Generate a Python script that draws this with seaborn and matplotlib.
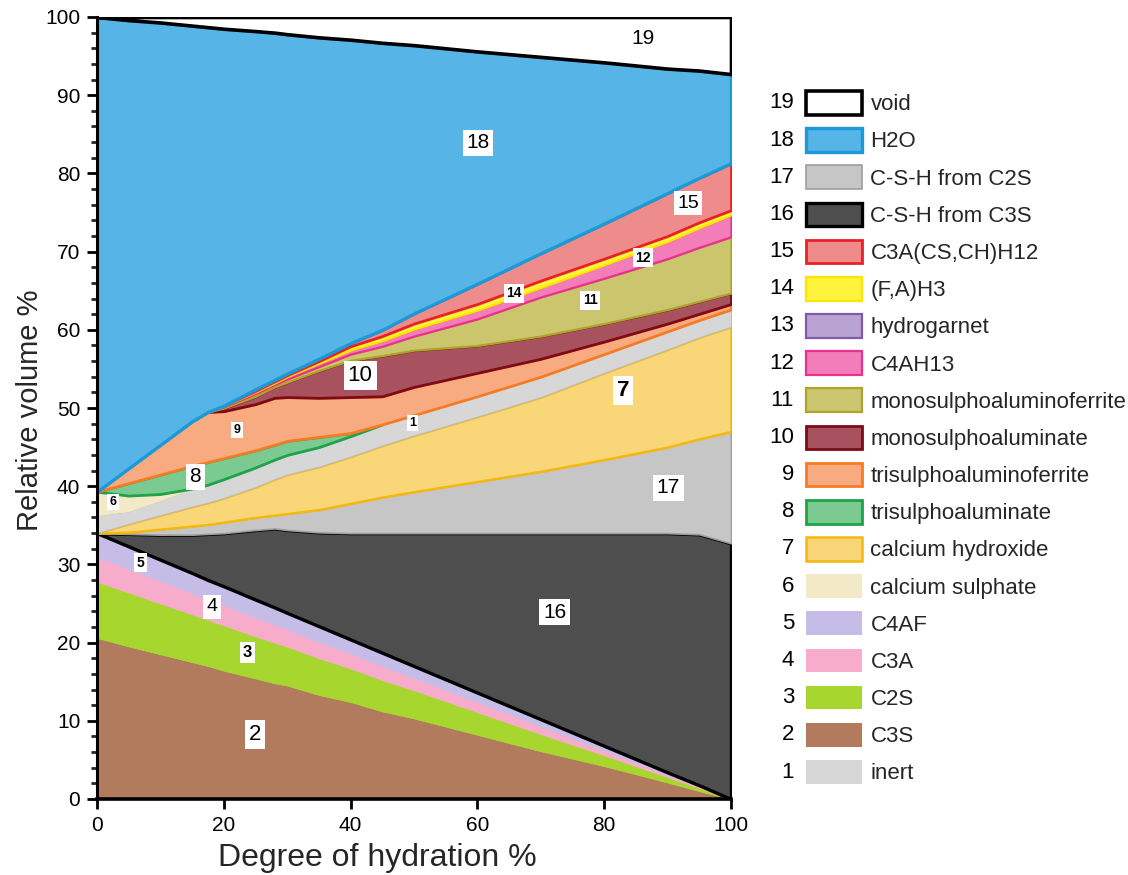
import numpy as np
import matplotlib
matplotlib.use("Agg")
import matplotlib.pyplot as plt
import seaborn as sns
from matplotlib.patches import Patch

# ---------------- data (relative volume %, thickness of each phase) ----------------
hydration = [0, 5, 10, 15, 17.5, 20, 25, 28, 30, 35, 40, 45, 50, 60, 70, 80, 90, 95, 100]

c3s      = [20.6, 19.5, 18.5, 17.5, 17.0, 16.4, 15.4, 14.8, 14.5, 13.3, 12.4, 11.2, 10.3, 8.2, 6.1, 4.2, 2.1, 1.0, 0.0]
c2s      = [7.2, 6.9, 6.5, 6.1, 5.9, 5.8, 5.4, 5.2, 5.0, 4.7, 4.3, 4.0, 3.6, 2.9, 2.2, 1.4, 0.7, 0.4, 0.0]
c3a      = [3.2, 3.0, 2.9, 2.7, 2.6, 2.6, 2.4, 2.3, 2.2, 2.1, 1.9, 1.8, 1.6, 1.3, 1.0, 0.6, 0.3, 0.2, 0.0]
c4af     = [3.0, 2.9, 2.7, 2.6, 2.5, 2.4, 2.3, 2.2, 2.1, 2.0, 1.8, 1.7, 1.5, 1.2, 0.9, 0.6, 0.3, 0.15, 0.0]
csh_c3s  = [0.0, 1.6, 3.2, 4.9, 5.9, 6.8, 8.9, 10.1, 10.6, 12.0, 13.6, 15.3, 17.0, 20.4, 23.8, 27.2, 30.6, 32.1, 32.7]
csh_c2s  = [0.0, 0.2, 0.7, 1.1, 1.2, 1.4, 1.6, 1.7, 2.1, 2.9, 3.8, 4.6, 5.3, 6.6, 7.9, 9.4, 11.0, 12.2, 14.3]
ch       = [0.0, 1.1, 1.8, 2.5, 2.8, 3.1, 3.9, 4.6, 5.0, 5.5, 6.0, 6.6, 7.2, 8.3, 9.5, 11.1, 12.5, 13.0, 13.4]
inert    = [2.3, 1.6, 1.9, 2.3, 2.3, 2.4, 2.5, 2.5, 2.5, 2.5, 2.6, 2.7, 2.6, 2.6, 2.6, 2.4, 2.3, 2.2, 2.2]
caso4    = [3.0, 2.0, 0.8, 0.0, 0.0, 0.0, 0.0, 0.0, 0.0, 0.0, 0.0, 0.0, 0.0, 0.0, 0.0, 0.0, 0.0, 0.0, 0.0]
ettr     = [0.0, 1.6, 2.5, 2.9, 2.9, 2.7, 2.2, 1.9, 1.8, 1.3, 0.4, 0.0, 0.0, 0.0, 0.0, 0.0, 0.0, 0.0, 0.0]
aft      = [0.0, 1.9, 3.8, 5.7, 6.4, 6.0, 5.9, 6.0, 5.6, 5.0, 4.6, 3.6, 3.6, 3.0, 2.3, 1.6, 1.0, 0.8, 0.7]
afm      = [0.0, 0.0, 0.0, 0.0, 0.0, 0.4, 1.0, 1.4, 1.9, 3.5, 4.7, 5.2, 4.7, 3.5, 2.9, 2.3, 1.8, 1.6, 1.4]
afm_f    = [0.0, 0.0, 0.0, 0.0, 0.0, 0.15, 0.35, 0.3, 0.4, 0.5, 0.8, 1.2, 1.8, 3.4, 5.0, 5.8, 6.5, 6.9, 7.2]
hydrogar = [0.0, 0.0, 0.0, 0.0, 0.0, 0.0, 0.0, 0.0, 0.0, 0.0, 0.0, 0.0, 0.0, 0.0, 0.0, 0.0, 0.0, 0.0, 0.0]
c4ah13   = [0.0, 0.0, 0.0, 0.0, 0.0, 0.1, 0.2, 0.2, 0.3, 0.4, 0.5, 0.7, 0.9, 1.1, 1.2, 1.7, 2.2, 2.5, 2.8]
fah3     = [0.0, 0.0, 0.0, 0.0, 0.0, 0.05, 0.15, 0.2, 0.2, 0.3, 0.5, 0.6, 0.7, 0.8, 0.9, 0.8, 0.7, 0.7, 0.6]
afm_ch   = [0.0, 0.0, 0.0, 0.0, 0.0, 0.0, 0.2, 0.2, 0.2, 0.3, 0.4, 0.8, 1.3, 2.6, 3.5, 4.5, 5.5, 5.7, 6.0]
h2o      = [60.7, 57.3, 54.0, 50.6, 49.2, 48.2, 45.8, 44.4, 43.4, 41.1, 38.8, 36.7, 34.3, 29.7, 25.1, 20.6, 15.9, 13.7, 11.4]
void     = [0.0, 0.4, 0.7, 1.1, 1.3, 1.5, 1.8, 2.0, 2.2, 2.6, 2.9, 3.3, 3.6, 4.4, 5.1, 5.8, 6.6, 6.85, 7.3]

legend_numbers = ["19", "18", "17", "16", "15", "14", "13", "12", "11", "10",
                  "9", "8", "7", "6", "5", "4", "3", "2", "1"]
legend_names = ["void", "H2O", "C-S-H from C2S", "C-S-H from C3S", "C3A(CS,CH)H12",
                "(F,A)H3", "hydrogarnet", "C4AH13", "monosulphoaluminoferrite",
                "monosulphoaluminate", "trisulphoaluminoferrite", "trisulphoaluminate",
                "calcium hydroxide", "calcium sulphate", "C4AF", "C3A", "C2S", "C3S", "inert"]

# styles: number -> (face, edge, linewidth)
style = {
    "19": ("#FFFFFF", "#000000", 2.6),
    "18": ("#56B4E6", "#1A9AD8", 2.4),
    "17": ("#C6C6C6", "#9E9E9E", 1.2),
    "16": ("#4E4E4E", "#000000", 2.4),
    "15": ("#EE8C8C", "#E8202A", 2.0),
    "14": ("#FFF33C", "#FFE400", 1.6),
    "13": ("#B9A3D3", "#7E5AA8", 1.6),
    "12": ("#F27DB9", "#EC3090", 1.6),
    "11": ("#CBC56E", "#ACA52A", 1.6),
    "10": ("#A9525F", "#7E0A16", 2.0),
    "9":  ("#F8AB80", "#F57C24", 2.0),
    "8":  ("#7ACA92", "#1FA248", 2.0),
    "7":  ("#F9D778", "#F6B70E", 1.8),
    "6":  ("#F2E9C6", "#F2E9C6", 0.5),
    "5":  ("#C5BDE7", "#C5BDE7", 0.5),
    "4":  ("#F7ACCB", "#F7ACCB", 0.5),
    "3":  ("#A7D72E", "#A7D72E", 0.5),
    "2":  ("#B27B5D", "#B27B5D", 0.5),
    "1":  ("#D7D7D7", "#BDBDBD", 0.8),
}

# stacking order (bottom -> top)
stack = [("2", c3s), ("3", c2s), ("4", c3a), ("5", c4af), ("16", csh_c3s),
         ("17", csh_c2s), ("7", ch), ("1", inert), ("6", caso4), ("8", ettr),
         ("9", aft), ("10", afm), ("11", afm_f), ("13", hydrogar), ("12", c4ah13),
         ("14", fah3), ("15", afm_ch), ("18", h2o), ("19", void)]

# ---------------- figure ----------------
sns.set_theme(style="ticks")
plt.rcParams["font.family"] = ["Liberation Sans", "DejaVu Sans"]

W, H = 1128, 875
fig = plt.figure(figsize=(W / 100, H / 100), dpi=100)
ax = fig.add_axes([97 / W, 76 / H, 634 / W, 782 / H])

x = np.array(hydration, dtype=float)
base = np.zeros_like(x)
for key, vals in stack:
    v = np.array(vals, dtype=float)
    top = base + v
    pos = v > 1e-9
    mask = pos.copy()
    mask[1:] |= pos[:-1]
    mask[:-1] |= pos[1:]
    if mask.any():
        fc, ec, lw = style[key]
        ax.fill_between(x, base, top, where=mask, facecolor=fc, edgecolor=ec,
                        linewidth=lw, interpolate=False, zorder=2)
    base = top

ax.set_xlim(0, 100)
ax.set_ylim(0, 100)
ax.set_xticks(np.arange(0, 101, 20))
ax.set_yticks(np.arange(0, 101, 10))
ax.set_yticks(np.arange(0, 101, 2), minor=True)
ax.tick_params(axis="both", which="major", direction="out", length=7, width=2,
               labelsize=15, colors="black", pad=5)
ax.tick_params(axis="y", which="minor", direction="out", length=4, width=2)
for s in ["top", "right"]:
    ax.spines[s].set_visible(False)
ax.spines["left"].set_linewidth(2.2)
ax.spines["bottom"].set_linewidth(2.6)
ax.spines["left"].set_color("black")
ax.spines["bottom"].set_color("black")
ax.spines["left"].set_zorder(5)
ax.spines["bottom"].set_zorder(5)

ax.set_xlabel("Degree of hydration %", fontsize=23, va="center")
ax.xaxis.set_label_coords(0.442, -0.075)
ax.set_ylabel("Relative volume %", fontsize=21, va="center")
ax.yaxis.set_label_coords(-0.106, 0.497)

# region labels
region_labels = [
    ("19", 86.1, 97.3, 15, False), ("18", 60.1, 83.9, 15, True),
    ("15", 93.2, 76.2, 14, True), ("12", 86.1, 69.2, 10, True),
    ("14", 65.8, 64.7, 10, True), ("11", 77.8, 63.8, 10, True),
    ("10", 41.5, 54.2, 16, True), ("9", 22.1, 47.2, 9, True),
    ("1", 49.8, 48.1, 9, True), ("7", 83.0, 52.3, 16, True),
    ("8", 15.5, 41.2, 15, True), ("6", 2.5, 38.0, 9, True),
    ("17", 90.1, 39.8, 15, True), ("16", 72.2, 23.9, 15, True),
    ("5", 6.9, 30.2, 10, True), ("4", 18.1, 24.6, 14, True),
    ("3", 23.7, 18.7, 12, True), ("2", 24.9, 8.2, 16, True),
]
for txt, lx, ly, fs, boxed in region_labels:
    kw = dict(ha="center", va="center", fontsize=fs, color="black", zorder=6)
    if fs <= 12:
        kw["fontweight"] = "bold"
    if txt == "7":
        kw["fontweight"] = "bold"
    if boxed:
        kw["bbox"] = dict(boxstyle="square,pad=0.18", facecolor="white", edgecolor="none")
    ax.text(lx, ly, txt, **kw)

# legend
handles = [Patch(facecolor=style[n][0], edgecolor=style[n][1],
                 linewidth=max(style[n][2], 1.0) if n not in ("6", "5", "4", "3", "2", "1") else 0)
           for n in legend_numbers]
leg = fig.legend(handles, legend_names, loc="upper left",
                 bbox_to_anchor=(806 / W, 1 - 91 / H), bbox_transform=fig.transFigure,
                 frameon=False, fontsize=16, handlelength=2.5, handleheight=1.26,
                 labelspacing=0.58, handletextpad=0.4, borderaxespad=0, borderpad=0)

fig.canvas.draw()
renderer = fig.canvas.get_renderer()
inv = fig.transFigure.inverted()
for h, num in zip(leg.legend_handles, legend_numbers):
    bb = h.get_window_extent(renderer)
    fx, fy = inv.transform((bb.x0 - 12, (bb.y0 + bb.y1) / 2))
    fig.text(fx, fy, num, ha="right", va="center", fontsize=16, color="black")

fig.savefig("out.png", dpi=100)
